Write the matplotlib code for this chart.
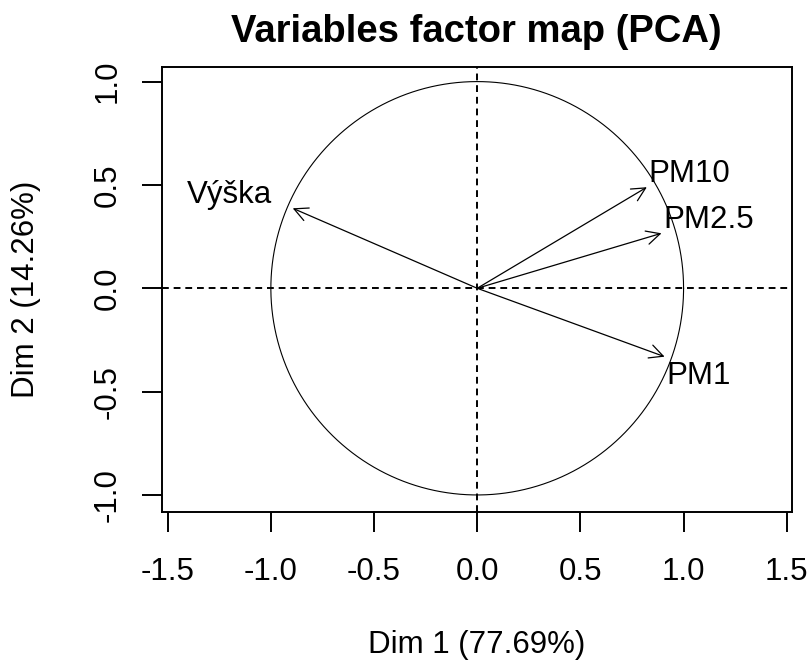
import numpy as np
import matplotlib
matplotlib.use('Agg')
import matplotlib.pyplot as plt
from matplotlib.patches import FancyArrowPatch

plt.rcParams['font.family'] = ['Liberation Sans', 'DejaVu Sans']

# PCA variable coordinates
variables = ['PM10', 'PM2.5', 'PM1', 'Výška']
dim1 = [0.822, 0.893, 0.908, -0.894]
dim2 = [0.489, 0.266, -0.331, 0.387]
ticks = [-1.5, -1.0, -0.5, 0.0, 0.5, 1.0, 1.5]
yticks = [-1.0, -0.5, 0.0, 0.5, 1.0]

W, H = 810, 662
FS = 22.5
fig = plt.figure(figsize=(W / 100, H / 100), dpi=100)
ax = fig.add_axes([161.7 / W, 1 - 511.7 / H, 630 / W, 445 / H])

ax.set_xlim(-1.529, 1.524)
ax.set_ylim(-1.081, 1.072)

# unit circle
t = np.linspace(0, 2 * np.pi, 400)
ax.plot(np.cos(t), np.sin(t), color='black', lw=0.8)

# dashed axes through the origin
ax.axhline(0, color='black', lw=1.4, ls=(0, (3.5, 2.5)))
ax.axvline(0, color='black', lw=1.4, ls=(0, (3.5, 2.5)))

# arrows and labels
for name, x, y in zip(variables, dim1, dim2):
    arr = FancyArrowPatch((0, 0), (x, y), arrowstyle='->,head_length=0.7,head_width=0.35',
                          mutation_scale=14, color='black', lw=0.9,
                          shrinkA=0, shrinkB=0)
    ax.add_patch(arr)
    if x > 0:
        ha, dx = 'left', 1
    else:
        ha, dx = 'right', -15
    if y > 0:
        va, dy = 'bottom', -1
    else:
        va, dy = 'top', -3
    ax.annotate(name, (x, y), xytext=(dx, dy), textcoords='offset points',
                ha=ha, va=va, fontsize=FS)

ax.set_xticks(ticks)
ax.set_xticklabels([f'{v:.1f}' for v in ticks])
ax.set_yticks(yticks)
ax.set_yticklabels([f'{v:.1f}' for v in yticks], rotation=90, va='center')
ax.tick_params(axis='both', direction='out', length=14.4, width=1.4,
               labelsize=FS)
ax.tick_params(axis='x', pad=18)
ax.tick_params(axis='y', pad=14)
for s in ax.spines.values():
    s.set_linewidth(1.4)

fig.text(476.7 / W, 1 - 42 / H, 'Variables factor map (PCA)', ha='center',
         va='baseline', fontsize=27.5, fontweight='bold')
fig.text(476.7 / W, 1 - 653 / H, 'Dim 1 (77.69%)', ha='center',
         va='baseline', fontsize=FS)
fig.text(34 / W, 1 - 289 / H, 'Dim 2 (14.26%)', ha='center', va='baseline',
         rotation=90, rotation_mode='anchor', fontsize=FS)

fig.savefig('out.png', dpi=100)
plt.close(fig)
